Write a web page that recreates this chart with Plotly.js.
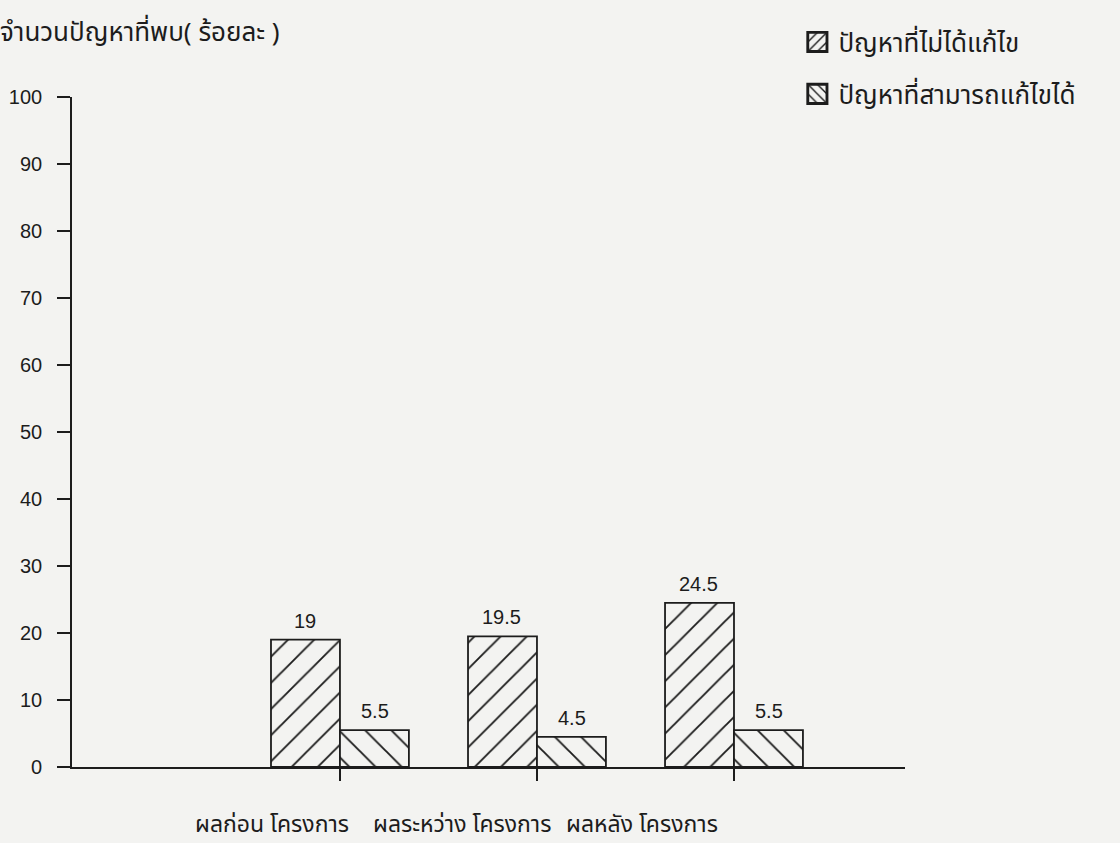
<!DOCTYPE html>
<html>
<head>
<meta charset="utf-8">
<script src="https://cdn.plot.ly/plotly-3.0.1.min.js"></script>
<style>html,body{margin:0;padding:0;background:#f3f3f1;}#chart{width:1120px;height:843px;}</style>
</head>
<body>
<div id="chart"></div>
<script>
const categories = ['ผลก่อน โครงการ', 'ผลระหว่าง โครงการ', 'ผลหลัง โครงการ'];
const seriesNames = ['ปัญหาที่ไม่ได้แก้ไข', 'ปัญหาที่สามารถแก้ไขได้'];
const unsolved = [19, 19.5, 24.5];
const solved = [5.5, 4.5, 5.5];
const valueLabels1 = ['19', '19.5', '24.5'];
const valueLabels2 = ['5.5', '4.5', '5.5'];
const yTicks = [0, 10, 20, 30, 40, 50, 60, 70, 80, 90, 100];
const yTitle = 'จำนวนปัญหาที่พบ( ร้อยละ )';

// styling: horizontal offset of each category label (px), as typed in the original
const labelShift = [-68, -75, -92];

const ink = '#1c1c1c';
const bg = '#f3f3f1';
const thai = 'Noto Sans Thai, Noto Sans, Liberation Sans, sans-serif';
const num = 'Liberation Sans, Arial, sans-serif';

function barMarker(shape) {
  return {color: bg, line: {color: ink, width: 1.8},
    pattern: {shape: shape, fgcolor: ink, fgopacity: 1, bgcolor: bg, size: 18.5, solidity: 0.1, fillmode: 'overlay'}};
}

const traces = [
  {type: 'bar', name: seriesNames[0], x: categories, y: unsolved, legend: 'legend',
   marker: barMarker('/'), hoverinfo: 'skip'},
  {type: 'bar', name: seriesNames[1], x: categories, y: solved, legend: 'legend2',
   marker: barMarker('\\'), hoverinfo: 'skip'}
];

const annotations = [];
categories.forEach((c, i) => {
  annotations.push({x: c, y: unsolved[i], text: valueLabels1[i], xshift: -35, yshift: 6,
    yanchor: 'bottom', showarrow: false, font: {family: num, size: 20, color: ink}});
  annotations.push({x: c, y: solved[i], text: valueLabels2[i], xshift: 35, yshift: 6,
    yanchor: 'bottom', showarrow: false, font: {family: num, size: 20, color: ink}});
  annotations.push({x: c, y: 0, text: c, xshift: labelShift[i], yshift: -58,
    yanchor: 'middle', xanchor: 'center', showarrow: false, font: {family: thai, size: 23, color: ink}});
});

const layout = {
  width: 1120, height: 843,
  paper_bgcolor: bg, plot_bgcolor: bg,
  margin: {l: 72, r: 215, t: 97, b: 76},
  barmode: 'group', bargap: 0.30, bargroupgap: 0,
  title: {text: yTitle, x: 0, xref: 'container', xanchor: 'left', y: 0.962, yref: 'container', yanchor: 'middle',
    font: {family: thai, size: 26, color: ink}},
  xaxis: {
    type: 'category', range: [-1.360, 2.868],
    showline: true, linecolor: ink, linewidth: 2,
    ticks: 'outside', ticklen: 12, tickwidth: 1.6, tickcolor: ink,
    showgrid: false, zeroline: false, showticklabels: false
  },
  yaxis: {
    range: [0, 100], tickvals: yTicks,
    showline: true, linecolor: ink, linewidth: 1.8,
    ticks: 'outside', ticklen: 13, tickwidth: 1.6, tickcolor: ink,
    showgrid: false, zeroline: false,
    tickfont: {family: num, size: 20, color: ink},
    ticklabelstandoff: 11
  },
  legend: {x: 0.872, y: 1.082, xanchor: 'left', yanchor: 'middle', bgcolor: 'rgba(0,0,0,0)',
    font: {family: thai, size: 26, color: ink}},
  legend2: {x: 0.872, y: 1.0045, xanchor: 'left', yanchor: 'middle', bgcolor: 'rgba(0,0,0,0)',
    font: {family: thai, size: 26, color: ink}},
  showlegend: true,
  annotations: annotations,
  shapes: [{type: 'line', xref: 'paper', yref: 'y', x0: -13/833, x1: 0, y0: 0, y1: 0,
    line: {color: ink, width: 2}}]
};

Plotly.newPlot('chart', traces, layout, {displayModeBar: false, staticPlot: true}).then(gd => {
  // enlarge legend swatches to match the original's larger hatched boxes
  gd.querySelectorAll('.legendpoints path').forEach(p => {
    const t = p.getAttribute('transform') || '';
    p.setAttribute('transform', t + ' translate(-1,0) scale(1.6)');
    const fill = p.style.fill || p.getAttribute('fill') || '';
    const m = /url\(["']?#([^"')]+)["']?\)/.exec(fill);
    if (m) {
      const pat = document.getElementById(m[1]);
      if (pat) {
        pat.setAttribute('patternTransform', 'scale(0.42)');
        pat.querySelectorAll('path').forEach(pp => {
          const sw = parseFloat(pp.style.strokeWidth || pp.getAttribute('stroke-width') || '1');
          pp.style.strokeWidth = (sw / 0.42 * 0.85) + 'px';
        });
      }
    }
  });
});
</script>
</body>
</html>
